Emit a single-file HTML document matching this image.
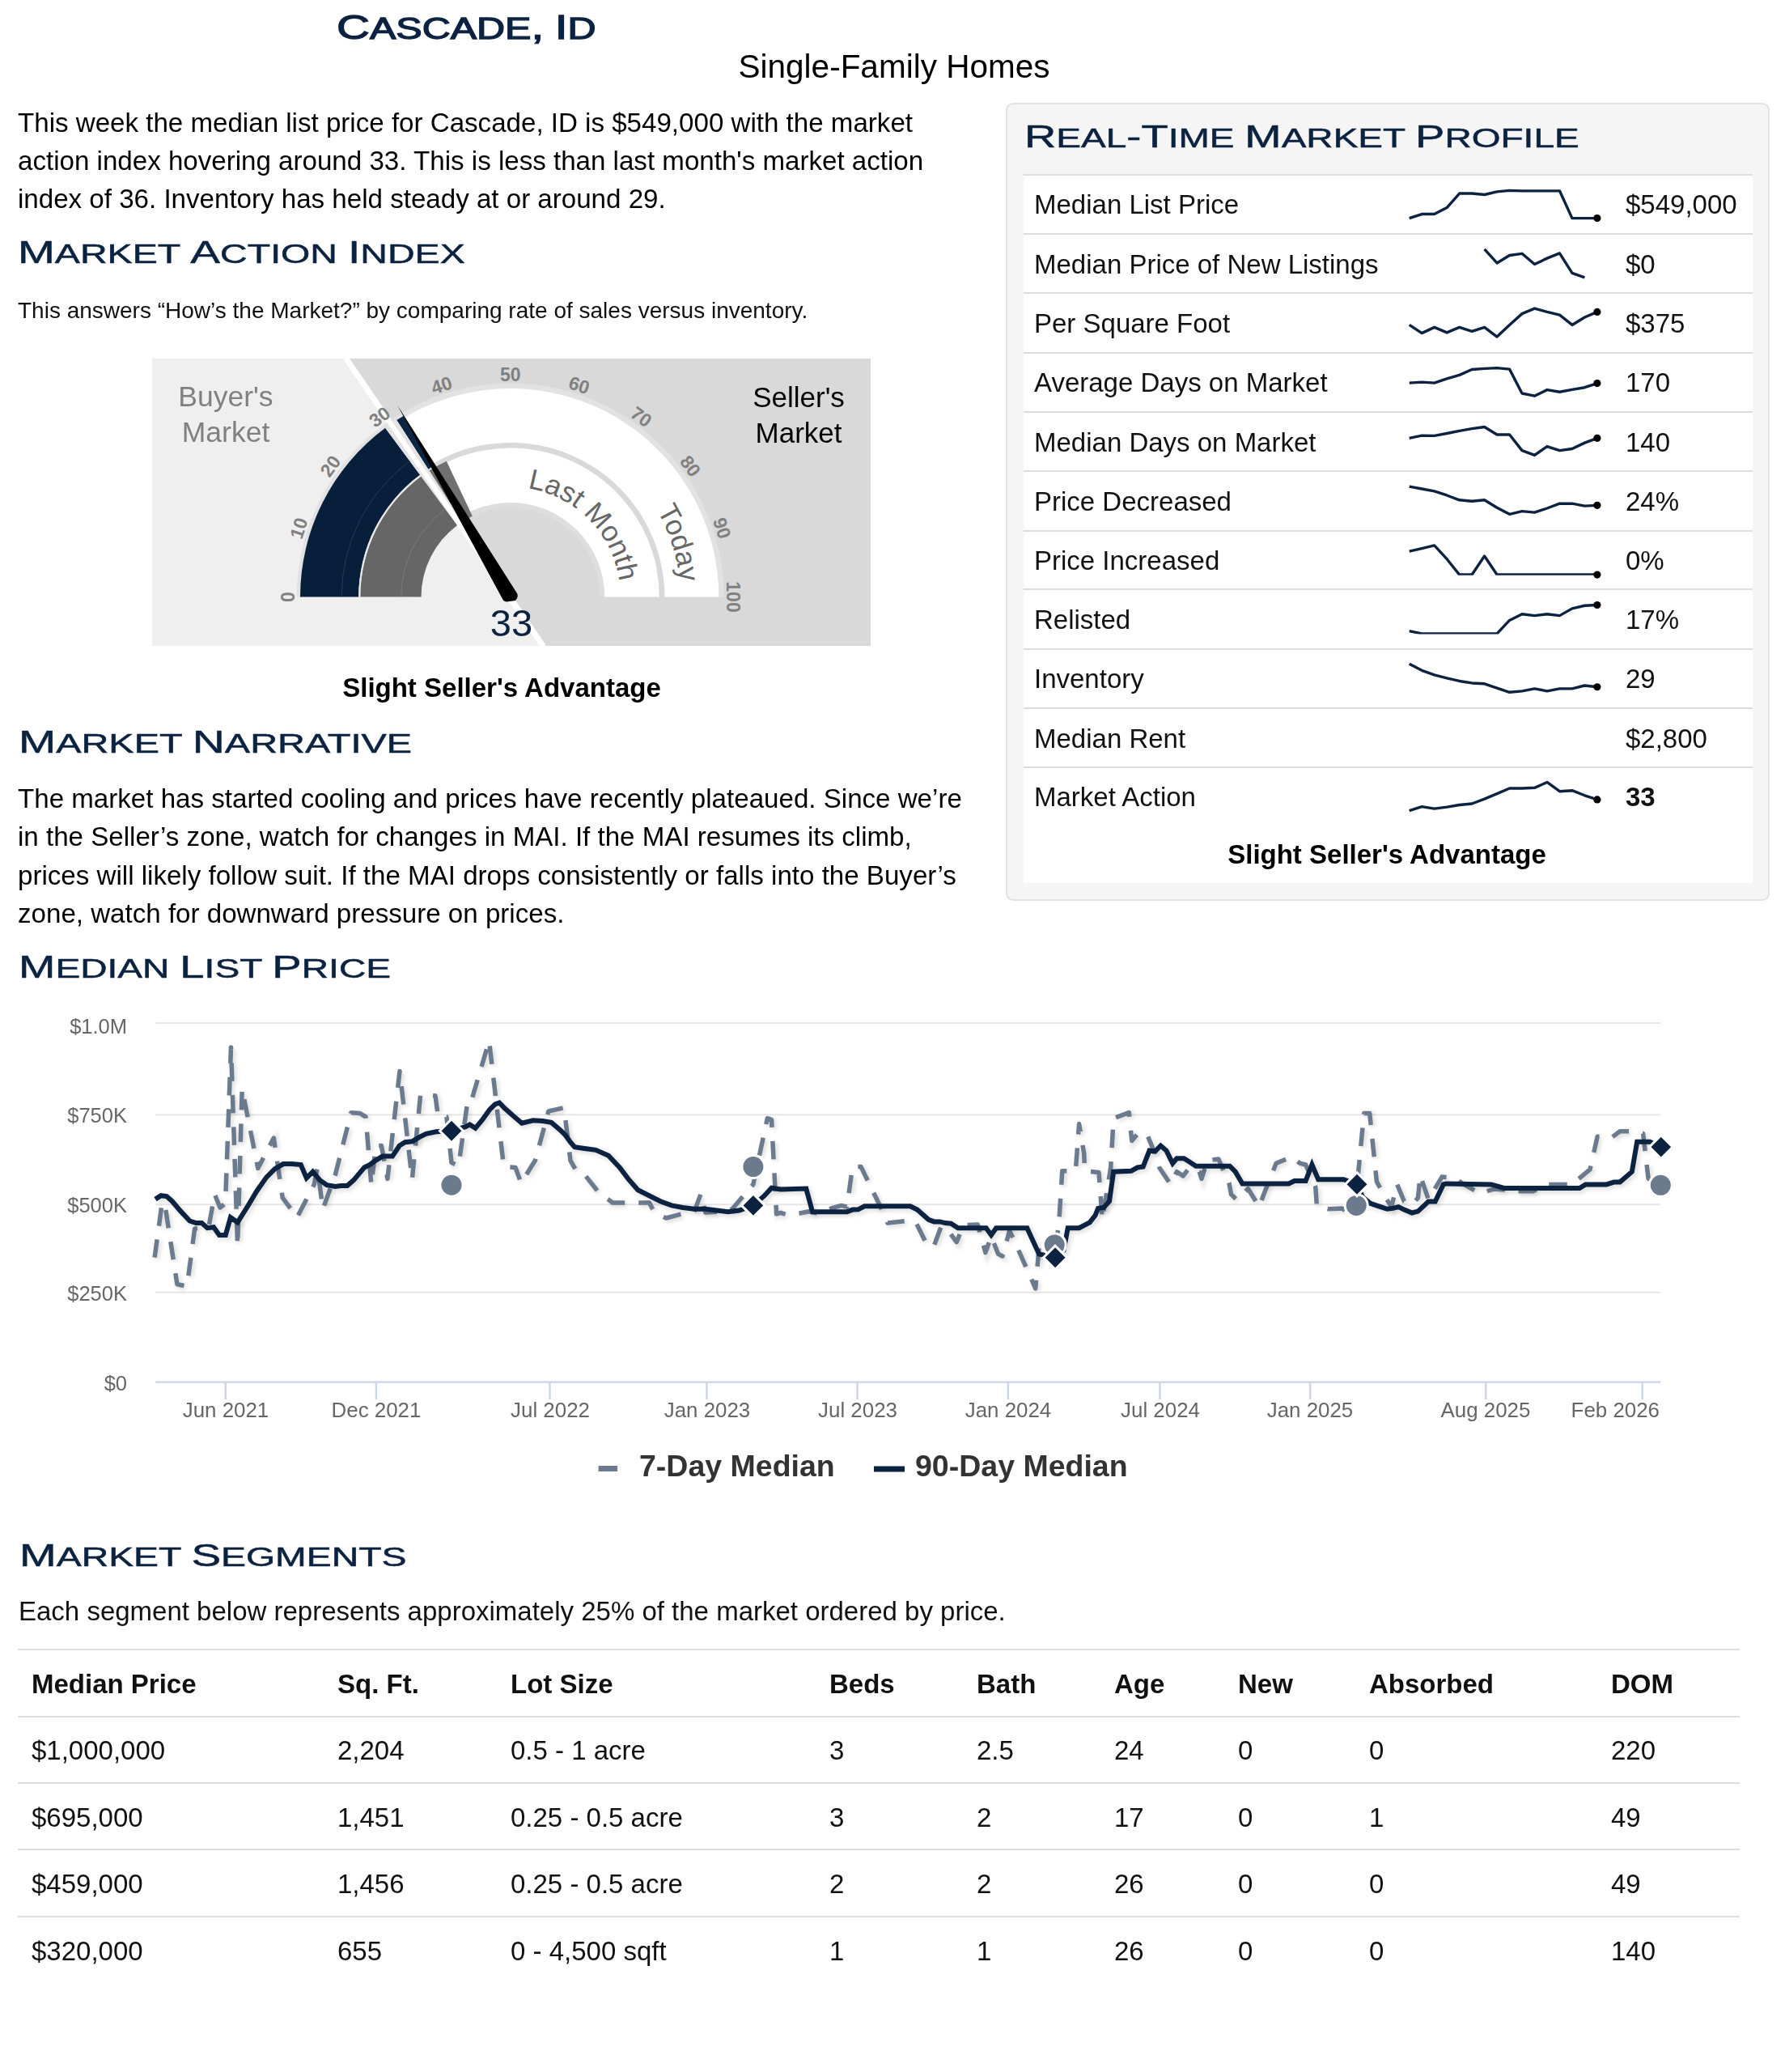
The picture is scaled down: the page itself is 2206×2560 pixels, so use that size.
<!DOCTYPE html>
<html><head><meta charset="utf-8"><title>Cascade, ID</title>
<style>
html,body{margin:0;padding:0;background:#fff;}
body{width:2206px;height:2560px;position:relative;overflow:hidden;font-family:"Liberation Sans",sans-serif;}
body>div{will-change:transform;}
</style></head><body>
<div style="position:absolute;left:1243px;top:127px;width:940px;height:982px;border:2.5px solid #e3e3e3;border-radius:9px;background:#f5f5f5;box-sizing:content-box"></div>
<div style="position:absolute;left:1264.5px;top:214.7px;width:901px;height:876.3px;background:#fff"></div>
<div style="position:absolute;left:1264.5px;top:214.7px;width:901px;height:2px;background:#dddddd"></div>
<div style="position:absolute;left:1264.5px;top:288.3px;width:901px;height:2px;background:#dddddd"></div>
<div style="position:absolute;left:1264.5px;top:361.4px;width:901px;height:2px;background:#dddddd"></div>
<div style="position:absolute;left:1264.5px;top:434.7px;width:901px;height:2px;background:#dddddd"></div>
<div style="position:absolute;left:1264.5px;top:508.0px;width:901px;height:2px;background:#dddddd"></div>
<div style="position:absolute;left:1264.5px;top:581.1px;width:901px;height:2px;background:#dddddd"></div>
<div style="position:absolute;left:1264.5px;top:654.7px;width:901px;height:2px;background:#dddddd"></div>
<div style="position:absolute;left:1264.5px;top:727.3px;width:901px;height:2px;background:#dddddd"></div>
<div style="position:absolute;left:1264.5px;top:800.7px;width:901px;height:2px;background:#dddddd"></div>
<div style="position:absolute;left:1264.5px;top:874.4px;width:901px;height:2px;background:#dddddd"></div>
<div style="position:absolute;left:1264.5px;top:946.8px;width:901px;height:2px;background:#dddddd"></div>
<div style="position:absolute;left:1277.80px;top:236.37px;font-size:33px;line-height:33px;color:#111;font-weight:normal;white-space:nowrap;">Median List Price</div>
<div style="position:absolute;left:2008.50px;top:236.37px;font-size:33px;line-height:33px;color:#111;font-weight:normal;white-space:nowrap;">$549,000</div>
<div style="position:absolute;left:1277.80px;top:309.97px;font-size:33px;line-height:33px;color:#111;font-weight:normal;white-space:nowrap;">Median Price of New Listings</div>
<div style="position:absolute;left:2008.50px;top:309.97px;font-size:33px;line-height:33px;color:#111;font-weight:normal;white-space:nowrap;">$0</div>
<div style="position:absolute;left:1277.80px;top:383.07px;font-size:33px;line-height:33px;color:#111;font-weight:normal;white-space:nowrap;">Per Square Foot</div>
<div style="position:absolute;left:2008.50px;top:383.07px;font-size:33px;line-height:33px;color:#111;font-weight:normal;white-space:nowrap;">$375</div>
<div style="position:absolute;left:1277.80px;top:456.37px;font-size:33px;line-height:33px;color:#111;font-weight:normal;white-space:nowrap;">Average Days on Market</div>
<div style="position:absolute;left:2008.50px;top:456.37px;font-size:33px;line-height:33px;color:#111;font-weight:normal;white-space:nowrap;">170</div>
<div style="position:absolute;left:1277.80px;top:529.67px;font-size:33px;line-height:33px;color:#111;font-weight:normal;white-space:nowrap;">Median Days on Market</div>
<div style="position:absolute;left:2008.50px;top:529.67px;font-size:33px;line-height:33px;color:#111;font-weight:normal;white-space:nowrap;">140</div>
<div style="position:absolute;left:1277.80px;top:602.77px;font-size:33px;line-height:33px;color:#111;font-weight:normal;white-space:nowrap;">Price Decreased</div>
<div style="position:absolute;left:2008.50px;top:602.77px;font-size:33px;line-height:33px;color:#111;font-weight:normal;white-space:nowrap;">24%</div>
<div style="position:absolute;left:1277.80px;top:676.37px;font-size:33px;line-height:33px;color:#111;font-weight:normal;white-space:nowrap;">Price Increased</div>
<div style="position:absolute;left:2008.50px;top:676.37px;font-size:33px;line-height:33px;color:#111;font-weight:normal;white-space:nowrap;">0%</div>
<div style="position:absolute;left:1277.80px;top:748.97px;font-size:33px;line-height:33px;color:#111;font-weight:normal;white-space:nowrap;">Relisted</div>
<div style="position:absolute;left:2008.50px;top:748.97px;font-size:33px;line-height:33px;color:#111;font-weight:normal;white-space:nowrap;">17%</div>
<div style="position:absolute;left:1277.80px;top:822.37px;font-size:33px;line-height:33px;color:#111;font-weight:normal;white-space:nowrap;">Inventory</div>
<div style="position:absolute;left:2008.50px;top:822.37px;font-size:33px;line-height:33px;color:#111;font-weight:normal;white-space:nowrap;">29</div>
<div style="position:absolute;left:1277.80px;top:896.07px;font-size:33px;line-height:33px;color:#111;font-weight:normal;white-space:nowrap;">Median Rent</div>
<div style="position:absolute;left:2008.50px;top:896.07px;font-size:33px;line-height:33px;color:#111;font-weight:normal;white-space:nowrap;">$2,800</div>
<div style="position:absolute;left:1277.80px;top:968.47px;font-size:33px;line-height:33px;color:#111;font-weight:normal;white-space:nowrap;">Market Action</div>
<div style="position:absolute;left:2008.50px;top:968.47px;font-size:33px;line-height:33px;color:#111;font-weight:bold;white-space:nowrap;">33</div>
<div style="position:absolute;left:714.00px;width:2000px;text-align:center;top:1038.57px;font-size:33px;line-height:33px;color:#000;font-weight:bold;white-space:nowrap;">Slight Seller's Advantage</div>
<div style="position:absolute;left:415.50px;top:13.05px;font-size:42px;line-height:42px;color:#0b2240;font-weight:normal;white-space:nowrap;transform-origin:0 0;transform:scaleX(1.3480);-webkit-text-stroke:1.3px #0b2240"><span style="font-size:42px">C</span><span style="font-size:36px">A</span><span style="font-size:36px">S</span><span style="font-size:36px">C</span><span style="font-size:36px">A</span><span style="font-size:36px">D</span><span style="font-size:36px">E</span><span style="font-size:42px">,</span><span style="font-size:36px"> </span><span style="font-size:42px">I</span><span style="font-size:36px">D</span></div>
<div style="position:absolute;left:22.30px;top:292.49px;font-size:39px;line-height:39px;color:#0b2240;font-weight:normal;white-space:nowrap;transform-origin:0 0;transform:scaleX(1.4115);-webkit-text-stroke:0.5px #0b2240"><span style="font-size:39px">M</span><span style="font-size:33px">A</span><span style="font-size:33px">R</span><span style="font-size:33px">K</span><span style="font-size:33px">E</span><span style="font-size:33px">T</span><span style="font-size:33px"> </span><span style="font-size:39px">A</span><span style="font-size:33px">C</span><span style="font-size:33px">T</span><span style="font-size:33px">I</span><span style="font-size:33px">O</span><span style="font-size:33px">N</span><span style="font-size:33px"> </span><span style="font-size:39px">I</span><span style="font-size:33px">N</span><span style="font-size:33px">D</span><span style="font-size:33px">E</span><span style="font-size:33px">X</span></div>
<div style="position:absolute;left:1266.30px;top:149.29px;font-size:39px;line-height:39px;color:#0b2240;font-weight:normal;white-space:nowrap;transform-origin:0 0;transform:scaleX(1.3948);-webkit-text-stroke:0.5px #0b2240"><span style="font-size:39px">R</span><span style="font-size:33px">E</span><span style="font-size:33px">A</span><span style="font-size:33px">L</span><span style="font-size:39px">-</span><span style="font-size:39px">T</span><span style="font-size:33px">I</span><span style="font-size:33px">M</span><span style="font-size:33px">E</span><span style="font-size:33px"> </span><span style="font-size:39px">M</span><span style="font-size:33px">A</span><span style="font-size:33px">R</span><span style="font-size:33px">K</span><span style="font-size:33px">E</span><span style="font-size:33px">T</span><span style="font-size:33px"> </span><span style="font-size:39px">P</span><span style="font-size:33px">R</span><span style="font-size:33px">O</span><span style="font-size:33px">F</span><span style="font-size:33px">I</span><span style="font-size:33px">L</span><span style="font-size:33px">E</span></div>
<div style="position:absolute;left:23.00px;top:897.39px;font-size:39px;line-height:39px;color:#0b2240;font-weight:normal;white-space:nowrap;transform-origin:0 0;transform:scaleX(1.4213);-webkit-text-stroke:0.5px #0b2240"><span style="font-size:39px">M</span><span style="font-size:33px">A</span><span style="font-size:33px">R</span><span style="font-size:33px">K</span><span style="font-size:33px">E</span><span style="font-size:33px">T</span><span style="font-size:33px"> </span><span style="font-size:39px">N</span><span style="font-size:33px">A</span><span style="font-size:33px">R</span><span style="font-size:33px">R</span><span style="font-size:33px">A</span><span style="font-size:33px">T</span><span style="font-size:33px">I</span><span style="font-size:33px">V</span><span style="font-size:33px">E</span></div>
<div style="position:absolute;left:23.00px;top:1174.99px;font-size:39px;line-height:39px;color:#0b2240;font-weight:normal;white-space:nowrap;transform-origin:0 0;transform:scaleX(1.3978);-webkit-text-stroke:0.5px #0b2240"><span style="font-size:39px">M</span><span style="font-size:33px">E</span><span style="font-size:33px">D</span><span style="font-size:33px">I</span><span style="font-size:33px">A</span><span style="font-size:33px">N</span><span style="font-size:33px"> </span><span style="font-size:39px">L</span><span style="font-size:33px">I</span><span style="font-size:33px">S</span><span style="font-size:33px">T</span><span style="font-size:33px"> </span><span style="font-size:39px">P</span><span style="font-size:33px">R</span><span style="font-size:33px">I</span><span style="font-size:33px">C</span><span style="font-size:33px">E</span></div>
<div style="position:absolute;left:23.50px;top:1902.19px;font-size:39px;line-height:39px;color:#0b2240;font-weight:normal;white-space:nowrap;transform-origin:0 0;transform:scaleX(1.4058);-webkit-text-stroke:0.5px #0b2240"><span style="font-size:39px">M</span><span style="font-size:33px">A</span><span style="font-size:33px">R</span><span style="font-size:33px">K</span><span style="font-size:33px">E</span><span style="font-size:33px">T</span><span style="font-size:33px"> </span><span style="font-size:39px">S</span><span style="font-size:33px">E</span><span style="font-size:33px">G</span><span style="font-size:33px">M</span><span style="font-size:33px">E</span><span style="font-size:33px">N</span><span style="font-size:33px">T</span><span style="font-size:33px">S</span></div>
<div style="position:absolute;left:104.50px;width:2000px;text-align:center;top:62.32px;font-size:40.5px;line-height:40.5px;color:#000;font-weight:normal;white-space:nowrap;">Single-Family Homes</div>
<div style="position:absolute;left:22.00px;top:135.06px;font-size:33.12px;line-height:33.12px;color:#000;font-weight:normal;white-space:nowrap;">This week the median list price for Cascade, ID is $549,000 with the market</div>
<div style="position:absolute;left:22.00px;top:182.21px;font-size:33.12px;line-height:33.12px;color:#000;font-weight:normal;white-space:nowrap;">action index hovering around 33. This is less than last month's market action</div>
<div style="position:absolute;left:22.00px;top:229.36px;font-size:33.12px;line-height:33.12px;color:#000;font-weight:normal;white-space:nowrap;">index of 36. Inventory has held steady at or around 29.</div>
<div style="position:absolute;left:22.00px;top:370.30px;font-size:28px;line-height:28px;color:#111;font-weight:normal;white-space:nowrap;">This answers “How’s the Market?” by comparing rate of sales versus inventory.</div>
<div style="position:absolute;left:22.00px;top:969.56px;font-size:33.12px;line-height:33.12px;color:#000;font-weight:normal;white-space:nowrap;">The market has started cooling and prices have recently plateaued. Since we’re</div>
<div style="position:absolute;left:22.00px;top:1017.06px;font-size:33.12px;line-height:33.12px;color:#000;font-weight:normal;white-space:nowrap;">in the Seller’s zone, watch for changes in MAI. If the MAI resumes its climb,</div>
<div style="position:absolute;left:22.00px;top:1064.56px;font-size:33.12px;line-height:33.12px;color:#000;font-weight:normal;white-space:nowrap;">prices will likely follow suit. If the MAI drops consistently or falls into the Buyer’s</div>
<div style="position:absolute;left:22.00px;top:1112.06px;font-size:33.12px;line-height:33.12px;color:#000;font-weight:normal;white-space:nowrap;">zone, watch for downward pressure on prices.</div>
<div style="position:absolute;left:-380.00px;width:2000px;text-align:center;top:832.77px;font-size:33px;line-height:33px;color:#000;font-weight:bold;white-space:nowrap;">Slight Seller's Advantage</div>
<svg width="2206" height="900" style="position:absolute;left:0;top:0">
<defs><clipPath id="gclip"><rect x="188" y="443" width="888" height="355"/></clipPath></defs>
<g clip-path="url(#gclip)">
<rect x="188" y="443" width="888" height="355" fill="#efefef"/>
<polygon points="431.3,443 1076,443 1076,798 675.3,798" fill="#d9d9d9"/>
<line x1="427.8" y1="443" x2="671" y2="798" stroke="#ffffff" stroke-width="7"/>
</g>
<path d="M366.80,737.50 A264,264 0 0 1 894.80,737.50 L888.40,737.50 A257.6,257.6 0 0 0 373.20,737.50 Z" fill="#e2e2e2" />
<path d="M440.20,737.50 A190.6,190.6 0 0 1 821.40,737.50 L814.80,737.50 A184,184 0 0 0 446.80,737.50 Z" fill="#d9d9d9" />
<path d="M513.80,737.50 A117,117 0 0 1 747.80,737.50 L740.80,737.50 A110,110 0 0 0 520.80,737.50 Z" fill="#dedede" />
<path d="M373.20,737.50 A257.6,257.6 0 0 1 888.40,737.50 L821.40,737.50 A190.6,190.6 0 0 0 440.20,737.50 Z" fill="#ffffff" />
<path d="M446.80,737.50 A184,184 0 0 1 814.80,737.50 L747.30,737.50 A116.5,116.5 0 0 0 514.30,737.50 Z" fill="#ffffff" />
<path d="M371.00,737.50 A259.8,259.8 0 0 1 476.12,528.77 L519.11,586.77 A187.6,187.6 0 0 0 443.20,737.50 Z" fill="#071f3b" />
<path d="M490.22,519.02 A259.8,259.8 0 0 1 498.55,513.88 L535.30,576.02 A187.6,187.6 0 0 0 529.29,579.74 Z" fill="#0b2545" />
<path d="M445.30,737.50 A185.5,185.5 0 0 1 520.36,588.46 L565.13,648.88 A110.3,110.3 0 0 0 520.50,737.50 Z" fill="#666666" />
<path d="M530.42,581.50 A185.5,185.5 0 0 1 551.82,569.65 L583.84,637.70 A110.3,110.3 0 0 0 571.11,644.74 Z" fill="#707070" />
<path d="M443.20,737.50 A187.6,187.6 0 0 1 519.11,586.77 L520.36,588.46 A185.5,185.5 0 0 0 445.30,737.50 Z" fill="#e8e8e8" />
<path d="M476.12,528.77 A259.8,259.8 0 0 1 490.22,519.02 L571.11,644.74 A110.3,110.3 0 0 0 565.13,648.88 Z" fill="#e3e3e3" />
<path d="M422.10,737.50 A208.7,208.7 0 0 1 506.54,569.82" fill="none" stroke="#2a3a50" stroke-width="1"/>
<path d="M495.80,737.50 A135,135 0 0 1 550.42,629.04" fill="none" stroke="#7a7a7a" stroke-width="1"/>
<line x1="427.8" y1="443" x2="671" y2="798" stroke="#ffffff" stroke-width="6"/>
<text x="355.80" y="737.50" transform="rotate(-90.0 355.80 737.50)" text-anchor="middle" dominant-baseline="central" font-family="Liberation Sans" font-weight="bold" font-size="23" fill="#808080">0</text>
<text x="369.26" y="652.52" transform="rotate(-72.0 369.26 652.52)" text-anchor="middle" dominant-baseline="central" font-family="Liberation Sans" font-weight="bold" font-size="23" fill="#808080">10</text>
<text x="408.32" y="575.86" transform="rotate(-54.0 408.32 575.86)" text-anchor="middle" dominant-baseline="central" font-family="Liberation Sans" font-weight="bold" font-size="23" fill="#808080">20</text>
<text x="469.16" y="515.02" transform="rotate(-36.0 469.16 515.02)" text-anchor="middle" dominant-baseline="central" font-family="Liberation Sans" font-weight="bold" font-size="23" fill="#808080">30</text>
<text x="545.82" y="475.96" transform="rotate(-18.0 545.82 475.96)" text-anchor="middle" dominant-baseline="central" font-family="Liberation Sans" font-weight="bold" font-size="23" fill="#808080">40</text>
<text x="630.80" y="462.50" transform="rotate(0.0 630.80 462.50)" text-anchor="middle" dominant-baseline="central" font-family="Liberation Sans" font-weight="bold" font-size="23" fill="#808080">50</text>
<text x="715.78" y="475.96" transform="rotate(18.0 715.78 475.96)" text-anchor="middle" dominant-baseline="central" font-family="Liberation Sans" font-weight="bold" font-size="23" fill="#808080">60</text>
<text x="792.44" y="515.02" transform="rotate(36.0 792.44 515.02)" text-anchor="middle" dominant-baseline="central" font-family="Liberation Sans" font-weight="bold" font-size="23" fill="#808080">70</text>
<text x="853.28" y="575.86" transform="rotate(54.0 853.28 575.86)" text-anchor="middle" dominant-baseline="central" font-family="Liberation Sans" font-weight="bold" font-size="23" fill="#808080">80</text>
<text x="892.34" y="652.52" transform="rotate(72.0 892.34 652.52)" text-anchor="middle" dominant-baseline="central" font-family="Liberation Sans" font-weight="bold" font-size="23" fill="#808080">90</text>
<text x="905.80" y="737.50" transform="rotate(90.0 905.80 737.50)" text-anchor="middle" dominant-baseline="central" font-family="Liberation Sans" font-weight="bold" font-size="23" fill="#808080">100</text>
<defs><path id="lm" d="M652.08,603.17 A136,136 0 0 1 766.28,749.35" fill="none"/><path id="td" d="M811.74,630.92 A210,210 0 0 1 840.00,755.80" fill="none"/></defs>
<text font-family="Liberation Sans" font-size="35" fill="#666"><textPath href="#lm">Last Month</textPath></text>
<text font-family="Liberation Sans" font-size="35" fill="#666"><textPath href="#td">Today</textPath></text>
<path d="M491.3,500.9 L639.2,733.4 Q641,738 637,742 L626,743.5 Q622,743 620.5,739 Z" fill="#000"/>
</svg>
<div style="position:absolute;left:-721.40px;width:2000px;text-align:center;top:472.95px;font-size:35.5px;line-height:35.5px;color:#808080;font-weight:normal;white-space:nowrap;">Buyer's</div>
<div style="position:absolute;left:-721.40px;width:2000px;text-align:center;top:517.25px;font-size:35.5px;line-height:35.5px;color:#808080;font-weight:normal;white-space:nowrap;">Market</div>
<div style="position:absolute;left:-13.00px;width:2000px;text-align:center;top:473.07px;font-size:35px;line-height:35px;color:#000;font-weight:normal;white-space:nowrap;">Seller's</div>
<div style="position:absolute;left:-13.00px;width:2000px;text-align:center;top:517.07px;font-size:35px;line-height:35px;color:#000;font-weight:normal;white-space:nowrap;">Market</div>
<div style="position:absolute;left:-368.30px;width:2000px;text-align:center;top:745.71px;font-size:47px;line-height:47px;color:#0b2240;font-weight:normal;white-space:nowrap;">33</div>
<svg width="2206" height="1100" style="position:absolute;left:0;top:0">
<path d="M1741.70,269.62 L1757.18,264.53 L1772.66,264.53 L1788.14,256.51 L1803.62,239.03 L1819.10,239.03 L1834.58,240.49 L1850.06,236.85 L1865.54,235.39 L1881.02,235.83 L1896.50,235.83 L1911.98,235.83 L1927.46,235.83 L1942.94,269.62 L1958.42,269.62 L1973.90,269.62" fill="none" stroke="#0b2240" stroke-width="3.4" stroke-linejoin="round"/><circle cx="1973.90" cy="269.62" r="4.6" fill="#000"/>
<path d="M1834.58,307.94 L1850.06,324.98 L1865.54,315.51 L1881.02,313.32 L1896.50,326.43 L1911.98,319.15 L1927.46,312.89 L1942.94,337.36 L1958.42,342.90" fill="none" stroke="#0b2240" stroke-width="3.4" stroke-linejoin="round"/>
<path d="M1741.70,401.45 L1757.18,411.65 L1772.66,404.37 L1788.14,410.92 L1803.62,404.37 L1819.10,409.46 L1834.58,404.37 L1850.06,416.02 L1865.54,401.45 L1881.02,387.61 L1896.50,381.06 L1911.98,385.43 L1927.46,389.07 L1942.94,401.45 L1958.42,391.98 L1973.90,385.43" fill="none" stroke="#0b2240" stroke-width="3.4" stroke-linejoin="round"/><circle cx="1973.90" cy="385.43" r="4.6" fill="#000"/>
<path d="M1741.70,473.16 L1757.18,472.14 L1772.66,473.16 L1788.14,467.77 L1803.62,463.40 L1819.10,456.56 L1834.58,455.39 L1850.06,454.66 L1865.54,456.12 L1881.02,485.98 L1896.50,489.19 L1911.98,481.61 L1927.46,484.24 L1942.94,481.32 L1958.42,478.70 L1973.90,473.60" fill="none" stroke="#0b2240" stroke-width="3.4" stroke-linejoin="round"/><circle cx="1973.90" cy="473.60" r="4.6" fill="#000"/>
<path d="M1741.70,541.34 L1757.18,538.13 L1772.66,538.42 L1788.14,535.51 L1803.62,532.31 L1819.10,529.68 L1834.58,527.50 L1850.06,536.97 L1865.54,536.97 L1881.02,556.63 L1896.50,562.46 L1911.98,551.53 L1927.46,556.63 L1942.94,554.45 L1958.42,547.16 L1973.90,541.34" fill="none" stroke="#0b2240" stroke-width="3.4" stroke-linejoin="round"/><circle cx="1973.90" cy="541.34" r="4.6" fill="#000"/>
<path d="M1741.70,601.06 L1757.18,603.97 L1772.66,606.89 L1788.14,611.98 L1803.62,617.81 L1819.10,619.27 L1834.58,617.81 L1850.06,627.28 L1865.54,635.29 L1881.02,631.65 L1896.50,633.11 L1911.98,628.01 L1927.46,622.18 L1942.94,622.18 L1958.42,625.09 L1973.90,624.37" fill="none" stroke="#0b2240" stroke-width="3.4" stroke-linejoin="round"/><circle cx="1973.90" cy="624.37" r="4.6" fill="#000"/>
<clipPath id="sc655_180"><rect x="1700" y="630.1" width="300" height="80.6"/></clipPath><path d="M1741.70,681.22 L1757.18,677.58 L1772.66,673.94 L1788.14,690.69 L1803.62,710.06 L1819.10,710.06 L1834.58,687.05 L1850.06,710.06 L1865.54,710.06 L1881.02,710.06 L1896.50,710.06 L1911.98,710.06 L1927.46,710.06 L1942.94,710.06 L1958.42,710.06 L1973.90,710.06" fill="none" stroke="#0b2240" stroke-width="3.4" stroke-linejoin="round" clip-path="url(#sc655_180)"/><circle cx="1973.90" cy="710.06" r="4.6" fill="#000"/>
<clipPath id="sc655_855"><rect x="1700" y="702.9" width="300" height="80.6"/></clipPath><path d="M1741.70,779.54 L1757.18,782.90 L1772.66,782.90 L1788.14,782.90 L1803.62,782.90 L1819.10,782.90 L1834.58,782.90 L1850.06,782.90 L1865.54,766.43 L1881.02,758.71 L1896.50,760.61 L1911.98,758.71 L1927.46,760.61 L1942.94,751.87 L1958.42,748.23 L1973.90,747.50" fill="none" stroke="#0b2240" stroke-width="3.4" stroke-linejoin="round" clip-path="url(#sc655_855)"/><circle cx="1973.90" cy="747.50" r="4.6" fill="#000"/>
<path d="M1741.70,820.33 L1757.18,828.34 L1772.66,833.88 L1788.14,837.81 L1803.62,841.45 L1819.10,843.93 L1834.58,844.80 L1850.06,850.19 L1865.54,855.29 L1881.02,853.83 L1896.50,850.92 L1911.98,853.83 L1927.46,850.92 L1942.94,850.92 L1958.42,846.99 L1973.90,848.74" fill="none" stroke="#0b2240" stroke-width="3.4" stroke-linejoin="round"/><circle cx="1973.90" cy="848.74" r="4.6" fill="#000"/>
<path d="M1741.70,1001.73 L1757.18,996.63 L1772.66,999.11 L1788.14,997.07 L1803.62,994.45 L1819.10,992.99 L1834.58,987.16 L1850.06,980.61 L1865.54,974.05 L1881.02,974.05 L1896.50,973.32 L1911.98,966.48 L1927.46,977.69 L1942.94,976.68 L1958.42,982.79 L1973.90,987.89" fill="none" stroke="#0b2240" stroke-width="3.4" stroke-linejoin="round"/><circle cx="1973.90" cy="987.89" r="4.6" fill="#000"/>
</svg>
<svg width="2206" height="1900" style="position:absolute;left:0;top:0">
<defs><filter id="shd" x="-5%" y="-5%" width="110%" height="110%"><feGaussianBlur stdDeviation="2"/></filter></defs>
<rect x="192.3" y="1263.0" width="1860.0" height="2" fill="#e6e6e6"/>
<rect x="192.3" y="1376.3" width="1860.0" height="2" fill="#e6e6e6"/>
<rect x="192.3" y="1487.2" width="1860.0" height="2" fill="#e6e6e6"/>
<rect x="192.3" y="1595.8" width="1860.0" height="2" fill="#e6e6e6"/>
<rect x="192.3" y="1706.4" width="1860.0" height="2.4" fill="#ccd6eb"/>
<rect x="277.6" y="1707.6" width="2.4" height="21.5" fill="#ccd6eb"/>
<rect x="463.7" y="1707.6" width="2.4" height="21.5" fill="#ccd6eb"/>
<rect x="678.3" y="1707.6" width="2.4" height="21.5" fill="#ccd6eb"/>
<rect x="872.3" y="1707.6" width="2.4" height="21.5" fill="#ccd6eb"/>
<rect x="1058.3" y="1707.6" width="2.4" height="21.5" fill="#ccd6eb"/>
<rect x="1244.6" y="1707.6" width="2.4" height="21.5" fill="#ccd6eb"/>
<rect x="1432.3" y="1707.6" width="2.4" height="21.5" fill="#ccd6eb"/>
<rect x="1618.0" y="1707.6" width="2.4" height="21.5" fill="#ccd6eb"/>
<rect x="1835.1" y="1707.6" width="2.4" height="21.5" fill="#ccd6eb"/>
<rect x="2028.5" y="1707.6" width="2.4" height="21.5" fill="#ccd6eb"/>
<path d="M191.1,1553.7 L200.3,1485.9 L204.1,1490.3 L218.9,1586.7 L231.1,1589.3 L240.6,1518.1 L258.0,1515.5 L265.3,1475.5 L271.9,1492.0 L278.5,1486.8 L285.5,1293.9 L293.6,1539.8 L299.2,1345.2 L318.8,1443.4 L338.3,1406.0 L349.2,1479.8 L367.1,1504.2 L388.3,1463.3 L392.2,1443.4 L399.1,1493.8 L414.4,1451.2 L433.9,1374.7 L445.0,1375.6 L452.0,1379.9 L458.9,1464.2 L464.5,1415.5 L471.4,1415.5 L478.9,1456.4 L494.0,1323.4 L509.3,1457.3 L519.7,1352.1 L538.0,1353.8 L541.5,1379.9 L551.9,1379.9 L558.0,1436.4 L566.7,1440.7 L578.0,1359.9 L582.3,1360.8 L604.5,1286.1 L622.6,1441.6 L637.0,1442.5 L644.0,1461.6 L661.4,1433.8 L677.9,1373.0 L697.0,1368.6 L705.0,1433.8 L712.8,1447.7 L722.4,1451.2 L742.4,1476.4 L751.1,1481.6 L757.1,1485.9 L771.0,1485.9 L802.3,1485.9 L809.3,1499.0 L823.2,1505.0 L842.3,1499.8 L857.9,1497.2 L866.3,1474.6 L871.8,1498.1 L889.2,1497.2 L904.9,1493.8 L930.9,1463.3 L948.3,1381.7 L953.5,1383.4 L959.6,1499.8 L965.0,1498.4 L972.0,1500.7 L988.5,1499.0 L999.8,1496.7 L1011.9,1499.5 L1026.7,1493.2 L1039.7,1489.4 L1046.7,1491.1 L1053.6,1441.6 L1064.1,1441.6 L1093.6,1502.4 L1097.1,1511.1 L1126.6,1507.7 L1132.7,1512.0 L1146.6,1539.8 L1154.4,1538.9 L1163.1,1515.5 L1170.9,1519.0 L1182.2,1534.6 L1190.9,1513.7 L1208.3,1512.9 L1217.9,1547.6 L1225.0,1527.6 L1233.7,1549.4 L1238.9,1552.0 L1247.6,1520.7 L1252.8,1531.1 L1279.7,1591.9 L1284.1,1541.5 L1304.1,1538.1 L1308.4,1515.5 L1312.8,1446.8 L1329.3,1446.8 L1333.6,1388.6 L1339.7,1425.1 L1340.6,1446.8 L1358.0,1448.6 L1362.3,1506.8 L1372.7,1442.5 L1376.2,1381.7 L1395.3,1374.7 L1398.8,1409.5 L1407.5,1399.0 L1417.9,1402.5 L1426.6,1423.4 L1432.7,1442.5 L1446.6,1463.3 L1454.4,1447.7 L1462.2,1452.9 L1470.0,1442.5 L1482.2,1447.7 L1485.0,1456.4 L1492.0,1433.8 L1505.9,1432.1 L1518.9,1461.6 L1521.5,1475.5 L1528.4,1482.5 L1542.4,1468.6 L1556.3,1491.1 L1561.5,1476.4 L1577.1,1437.3 L1596.2,1429.4 L1606.7,1437.3 L1613.6,1439.0 L1625.8,1466.8 L1627.5,1491.1 L1641.4,1493.8 L1658.8,1492.9 L1669.2,1501.6 L1677.9,1456.4 L1685.7,1375.6 L1692.7,1375.6 L1701.4,1459.9 L1710.9,1477.2 L1719.6,1491.1 L1726.6,1463.3 L1735.3,1484.2 L1745.0,1488.3 L1752.4,1480.0 L1755.2,1452.3 L1765.3,1481.9 L1782.0,1454.1 L1798.6,1455.0 L1806.0,1461.5 L1829.1,1474.5 L1846.7,1468.9 L1878.1,1471.7 L1894.8,1471.7 L1911.4,1463.4 L1942.8,1463.4 L1965.0,1444.9 L1974.2,1404.2 L1990.9,1406.1 L2002.0,1397.7 L2013.1,1397.7 L2030.6,1400.5 L2037.1,1456.0 L2052.3,1464.3" fill="none" stroke="#000" stroke-opacity="0.10" stroke-width="8" stroke-dasharray="22.5 17" transform="translate(2.4,2.4)" filter="url(#shd)"/>
<path d="M191.1,1553.7 L200.3,1485.9 L204.1,1490.3 L218.9,1586.7 L231.1,1589.3 L240.6,1518.1 L258.0,1515.5 L265.3,1475.5 L271.9,1492.0 L278.5,1486.8 L285.5,1293.9 L293.6,1539.8 L299.2,1345.2 L318.8,1443.4 L338.3,1406.0 L349.2,1479.8 L367.1,1504.2 L388.3,1463.3 L392.2,1443.4 L399.1,1493.8 L414.4,1451.2 L433.9,1374.7 L445.0,1375.6 L452.0,1379.9 L458.9,1464.2 L464.5,1415.5 L471.4,1415.5 L478.9,1456.4 L494.0,1323.4 L509.3,1457.3 L519.7,1352.1 L538.0,1353.8 L541.5,1379.9 L551.9,1379.9 L558.0,1436.4 L566.7,1440.7 L578.0,1359.9 L582.3,1360.8 L604.5,1286.1 L622.6,1441.6 L637.0,1442.5 L644.0,1461.6 L661.4,1433.8 L677.9,1373.0 L697.0,1368.6 L705.0,1433.8 L712.8,1447.7 L722.4,1451.2 L742.4,1476.4 L751.1,1481.6 L757.1,1485.9 L771.0,1485.9 L802.3,1485.9 L809.3,1499.0 L823.2,1505.0 L842.3,1499.8 L857.9,1497.2 L866.3,1474.6 L871.8,1498.1 L889.2,1497.2 L904.9,1493.8 L930.9,1463.3 L948.3,1381.7 L953.5,1383.4 L959.6,1499.8 L965.0,1498.4 L972.0,1500.7 L988.5,1499.0 L999.8,1496.7 L1011.9,1499.5 L1026.7,1493.2 L1039.7,1489.4 L1046.7,1491.1 L1053.6,1441.6 L1064.1,1441.6 L1093.6,1502.4 L1097.1,1511.1 L1126.6,1507.7 L1132.7,1512.0 L1146.6,1539.8 L1154.4,1538.9 L1163.1,1515.5 L1170.9,1519.0 L1182.2,1534.6 L1190.9,1513.7 L1208.3,1512.9 L1217.9,1547.6 L1225.0,1527.6 L1233.7,1549.4 L1238.9,1552.0 L1247.6,1520.7 L1252.8,1531.1 L1279.7,1591.9 L1284.1,1541.5 L1304.1,1538.1 L1308.4,1515.5 L1312.8,1446.8 L1329.3,1446.8 L1333.6,1388.6 L1339.7,1425.1 L1340.6,1446.8 L1358.0,1448.6 L1362.3,1506.8 L1372.7,1442.5 L1376.2,1381.7 L1395.3,1374.7 L1398.8,1409.5 L1407.5,1399.0 L1417.9,1402.5 L1426.6,1423.4 L1432.7,1442.5 L1446.6,1463.3 L1454.4,1447.7 L1462.2,1452.9 L1470.0,1442.5 L1482.2,1447.7 L1485.0,1456.4 L1492.0,1433.8 L1505.9,1432.1 L1518.9,1461.6 L1521.5,1475.5 L1528.4,1482.5 L1542.4,1468.6 L1556.3,1491.1 L1561.5,1476.4 L1577.1,1437.3 L1596.2,1429.4 L1606.7,1437.3 L1613.6,1439.0 L1625.8,1466.8 L1627.5,1491.1 L1641.4,1493.8 L1658.8,1492.9 L1669.2,1501.6 L1677.9,1456.4 L1685.7,1375.6 L1692.7,1375.6 L1701.4,1459.9 L1710.9,1477.2 L1719.6,1491.1 L1726.6,1463.3 L1735.3,1484.2 L1745.0,1488.3 L1752.4,1480.0 L1755.2,1452.3 L1765.3,1481.9 L1782.0,1454.1 L1798.6,1455.0 L1806.0,1461.5 L1829.1,1474.5 L1846.7,1468.9 L1878.1,1471.7 L1894.8,1471.7 L1911.4,1463.4 L1942.8,1463.4 L1965.0,1444.9 L1974.2,1404.2 L1990.9,1406.1 L2002.0,1397.7 L2013.1,1397.7 L2030.6,1400.5 L2037.1,1456.0 L2052.3,1464.3" fill="none" stroke="#6b7a8d" stroke-width="5.5" stroke-dasharray="22.5 17" stroke-linejoin="round"/>
<path d="M192.0,1481.6 L198.9,1477.2 L205.9,1478.1 L212.8,1484.2 L223.2,1496.4 L234.5,1508.5 L242.4,1511.1 L249.3,1511.1 L256.3,1517.2 L264.1,1516.3 L271.0,1525.9 L278.8,1525.9 L284.9,1504.2 L293.6,1510.3 L306.7,1489.4 L317.1,1472.0 L329.2,1454.6 L339.7,1444.2 L350.1,1438.1 L360.5,1438.1 L371.8,1439.0 L378.8,1455.5 L386.6,1447.7 L395.3,1458.1 L404.0,1464.2 L414.4,1465.9 L421.4,1465.1 L429.2,1465.1 L437.0,1458.1 L445.0,1448.6 L450.2,1442.5 L457.2,1439.0 L464.1,1433.8 L472.8,1428.6 L485.0,1428.6 L493.7,1415.5 L500.6,1411.2 L509.3,1410.3 L518.0,1405.1 L526.7,1400.8 L538.8,1398.2 L558.0,1397.3 L575.3,1392.1 L580.6,1389.5 L587.5,1393.8 L596.2,1383.4 L604.9,1371.2 L611.8,1364.3 L617.1,1362.5 L624.0,1369.5 L632.7,1377.3 L644.9,1387.7 L658.8,1384.3 L670.9,1385.1 L681.4,1386.9 L691.8,1395.6 L698.7,1402.5 L705.0,1411.2 L710.2,1417.3 L722.4,1419.0 L736.3,1420.8 L751.9,1427.7 L765.8,1442.5 L776.3,1456.4 L788.4,1470.3 L802.3,1477.2 L816.2,1484.2 L830.1,1489.4 L844.0,1492.0 L857.9,1493.8 L871.8,1493.8 L885.7,1495.5 L899.6,1497.2 L913.6,1495.5 L930.9,1489.4 L944.8,1477.2 L953.5,1467.7 L965.0,1469.4 L996.3,1468.6 L1004.1,1497.2 L1046.7,1497.2 L1053.6,1494.6 L1060.6,1494.3 L1068.4,1490.3 L1124.9,1490.3 L1133.6,1494.6 L1147.5,1506.8 L1154.4,1509.4 L1161.4,1509.4 L1168.3,1511.1 L1175.3,1511.7 L1184.0,1517.2 L1218.7,1517.2 L1225.0,1525.9 L1231.1,1517.2 L1269.3,1517.2 L1284.1,1549.4 L1304.1,1553.7 L1314.5,1545.0 L1319.7,1517.2 L1333.6,1517.2 L1346.7,1510.3 L1353.6,1501.6 L1357.1,1492.9 L1364.0,1492.0 L1371.0,1484.2 L1376.2,1447.7 L1397.9,1446.8 L1405.7,1442.5 L1412.7,1441.6 L1420.5,1421.6 L1427.5,1422.5 L1434.4,1415.5 L1441.4,1421.6 L1449.2,1437.3 L1454.4,1431.2 L1463.1,1431.2 L1470.0,1435.5 L1477.9,1440.7 L1485.0,1440.7 L1519.8,1440.7 L1526.7,1447.7 L1535.4,1462.5 L1592.8,1462.5 L1599.7,1459.0 L1613.6,1459.0 L1621.4,1439.0 L1629.2,1457.3 L1660.5,1457.3 L1677.0,1463.3 L1684.0,1479.0 L1693.6,1486.8 L1704.0,1490.3 L1714.4,1493.8 L1721.4,1492.9 L1728.3,1491.1 L1735.3,1494.6 L1745.0,1498.5 L1752.4,1496.6 L1765.3,1484.6 L1773.7,1484.6 L1783.8,1463.4 L1787.5,1462.4 L1843.0,1463.4 L1858.7,1468.0 L1952.1,1468.0 L1959.5,1463.4 L1985.3,1463.4 L1994.6,1460.6 L2002.0,1460.6 L2016.8,1447.7 L2023.2,1410.7 L2039.0,1410.7 L2052.8,1417.1" fill="none" stroke="#000" stroke-opacity="0.10" stroke-width="9" transform="translate(2.4,2.4)" filter="url(#shd)"/>
<path d="M192.0,1481.6 L198.9,1477.2 L205.9,1478.1 L212.8,1484.2 L223.2,1496.4 L234.5,1508.5 L242.4,1511.1 L249.3,1511.1 L256.3,1517.2 L264.1,1516.3 L271.0,1525.9 L278.8,1525.9 L284.9,1504.2 L293.6,1510.3 L306.7,1489.4 L317.1,1472.0 L329.2,1454.6 L339.7,1444.2 L350.1,1438.1 L360.5,1438.1 L371.8,1439.0 L378.8,1455.5 L386.6,1447.7 L395.3,1458.1 L404.0,1464.2 L414.4,1465.9 L421.4,1465.1 L429.2,1465.1 L437.0,1458.1 L445.0,1448.6 L450.2,1442.5 L457.2,1439.0 L464.1,1433.8 L472.8,1428.6 L485.0,1428.6 L493.7,1415.5 L500.6,1411.2 L509.3,1410.3 L518.0,1405.1 L526.7,1400.8 L538.8,1398.2 L558.0,1397.3 L575.3,1392.1 L580.6,1389.5 L587.5,1393.8 L596.2,1383.4 L604.9,1371.2 L611.8,1364.3 L617.1,1362.5 L624.0,1369.5 L632.7,1377.3 L644.9,1387.7 L658.8,1384.3 L670.9,1385.1 L681.4,1386.9 L691.8,1395.6 L698.7,1402.5 L705.0,1411.2 L710.2,1417.3 L722.4,1419.0 L736.3,1420.8 L751.9,1427.7 L765.8,1442.5 L776.3,1456.4 L788.4,1470.3 L802.3,1477.2 L816.2,1484.2 L830.1,1489.4 L844.0,1492.0 L857.9,1493.8 L871.8,1493.8 L885.7,1495.5 L899.6,1497.2 L913.6,1495.5 L930.9,1489.4 L944.8,1477.2 L953.5,1467.7 L965.0,1469.4 L996.3,1468.6 L1004.1,1497.2 L1046.7,1497.2 L1053.6,1494.6 L1060.6,1494.3 L1068.4,1490.3 L1124.9,1490.3 L1133.6,1494.6 L1147.5,1506.8 L1154.4,1509.4 L1161.4,1509.4 L1168.3,1511.1 L1175.3,1511.7 L1184.0,1517.2 L1218.7,1517.2 L1225.0,1525.9 L1231.1,1517.2 L1269.3,1517.2 L1284.1,1549.4 L1304.1,1553.7 L1314.5,1545.0 L1319.7,1517.2 L1333.6,1517.2 L1346.7,1510.3 L1353.6,1501.6 L1357.1,1492.9 L1364.0,1492.0 L1371.0,1484.2 L1376.2,1447.7 L1397.9,1446.8 L1405.7,1442.5 L1412.7,1441.6 L1420.5,1421.6 L1427.5,1422.5 L1434.4,1415.5 L1441.4,1421.6 L1449.2,1437.3 L1454.4,1431.2 L1463.1,1431.2 L1470.0,1435.5 L1477.9,1440.7 L1485.0,1440.7 L1519.8,1440.7 L1526.7,1447.7 L1535.4,1462.5 L1592.8,1462.5 L1599.7,1459.0 L1613.6,1459.0 L1621.4,1439.0 L1629.2,1457.3 L1660.5,1457.3 L1677.0,1463.3 L1684.0,1479.0 L1693.6,1486.8 L1704.0,1490.3 L1714.4,1493.8 L1721.4,1492.9 L1728.3,1491.1 L1735.3,1494.6 L1745.0,1498.5 L1752.4,1496.6 L1765.3,1484.6 L1773.7,1484.6 L1783.8,1463.4 L1787.5,1462.4 L1843.0,1463.4 L1858.7,1468.0 L1952.1,1468.0 L1959.5,1463.4 L1985.3,1463.4 L1994.6,1460.6 L2002.0,1460.6 L2016.8,1447.7 L2023.2,1410.7 L2039.0,1410.7 L2052.8,1417.1" fill="none" stroke="#0b2240" stroke-width="6" stroke-linejoin="miter" stroke-miterlimit="3"/>
<circle cx="558" cy="1464.2" r="14" fill="#6b7a8d" stroke="#fff" stroke-width="3"/>
<circle cx="930.9" cy="1441.6" r="14" fill="#6b7a8d" stroke="#fff" stroke-width="3"/>
<circle cx="1303.2" cy="1538" r="14" fill="#6b7a8d" stroke="#fff" stroke-width="3"/>
<circle cx="1676.2" cy="1489.4" r="14" fill="#6b7a8d" stroke="#fff" stroke-width="3"/>
<circle cx="2052.3" cy="1464.3" r="14" fill="#6b7a8d" stroke="#fff" stroke-width="3"/>
<polygon points="558,1382.8 572.5,1397.3 558,1411.8 543.5,1397.3" fill="#0b2240" stroke="#fff" stroke-width="3"/>
<polygon points="930.9,1474.9 945.4,1489.4 930.9,1503.9 916.4,1489.4" fill="#0b2240" stroke="#fff" stroke-width="3"/>
<polygon points="1304.1,1539.2 1318.6,1553.7 1304.1,1568.2 1289.6,1553.7" fill="#0b2240" stroke="#fff" stroke-width="3"/>
<polygon points="1677,1448.8 1691.5,1463.3 1677,1477.8 1662.5,1463.3" fill="#0b2240" stroke="#fff" stroke-width="3"/>
<polygon points="2052.8,1402.6 2067.3,1417.1 2052.8,1431.6 2038.3000000000002,1417.1" fill="#0b2240" stroke="#fff" stroke-width="3"/>
<rect x="739.6" y="1811" width="23.5" height="7" fill="#6b7a8d"/>
<rect x="1080" y="1811.5" width="38" height="7" fill="#0b2240"/>
</svg>
<div style="position:absolute;left:0;width:157px;text-align:right;top:1255.6px;font-size:25.5px;line-height:25.5px;color:#666;white-space:nowrap">$1.0M</div>
<div style="position:absolute;left:0;width:157px;text-align:right;top:1366.1px;font-size:25.5px;line-height:25.5px;color:#666;white-space:nowrap">$750K</div>
<div style="position:absolute;left:0;width:157px;text-align:right;top:1477.4px;font-size:25.5px;line-height:25.5px;color:#666;white-space:nowrap">$500K</div>
<div style="position:absolute;left:0;width:157px;text-align:right;top:1585.6px;font-size:25.5px;line-height:25.5px;color:#666;white-space:nowrap">$250K</div>
<div style="position:absolute;left:0;width:157px;text-align:right;top:1697.4px;font-size:25.5px;line-height:25.5px;color:#666;white-space:nowrap">$0</div>
<div style="position:absolute;left:-721.20px;width:2000px;text-align:center;top:1729.58px;font-size:25.9px;line-height:25.9px;color:#666;font-weight:normal;white-space:nowrap;">Jun 2021</div>
<div style="position:absolute;left:-535.10px;width:2000px;text-align:center;top:1729.58px;font-size:25.9px;line-height:25.9px;color:#666;font-weight:normal;white-space:nowrap;">Dec 2021</div>
<div style="position:absolute;left:-320.50px;width:2000px;text-align:center;top:1729.58px;font-size:25.9px;line-height:25.9px;color:#666;font-weight:normal;white-space:nowrap;">Jul 2022</div>
<div style="position:absolute;left:-126.50px;width:2000px;text-align:center;top:1729.58px;font-size:25.9px;line-height:25.9px;color:#666;font-weight:normal;white-space:nowrap;">Jan 2023</div>
<div style="position:absolute;left:59.50px;width:2000px;text-align:center;top:1729.58px;font-size:25.9px;line-height:25.9px;color:#666;font-weight:normal;white-space:nowrap;">Jul 2023</div>
<div style="position:absolute;left:245.80px;width:2000px;text-align:center;top:1729.58px;font-size:25.9px;line-height:25.9px;color:#666;font-weight:normal;white-space:nowrap;">Jan 2024</div>
<div style="position:absolute;left:433.50px;width:2000px;text-align:center;top:1729.58px;font-size:25.9px;line-height:25.9px;color:#666;font-weight:normal;white-space:nowrap;">Jul 2024</div>
<div style="position:absolute;left:619.20px;width:2000px;text-align:center;top:1729.58px;font-size:25.9px;line-height:25.9px;color:#666;font-weight:normal;white-space:nowrap;">Jan 2025</div>
<div style="position:absolute;left:836.30px;width:2000px;text-align:center;top:1729.58px;font-size:25.9px;line-height:25.9px;color:#666;font-weight:normal;white-space:nowrap;">Aug 2025</div>
<div style="position:absolute;left:1850px;width:201px;text-align:right;top:1729.6px;font-size:25.9px;line-height:25.9px;color:#666;white-space:nowrap">Feb 2026</div>
<div style="position:absolute;left:790.00px;top:1793.26px;font-size:37.5px;line-height:37.5px;color:#333;font-weight:bold;white-space:nowrap;">7-Day Median</div>
<div style="position:absolute;left:1130.50px;top:1793.26px;font-size:37.5px;line-height:37.5px;color:#333;font-weight:bold;white-space:nowrap;">90-Day Median</div>
<div style="position:absolute;left:22.50px;top:1974.47px;font-size:33px;line-height:33px;color:#111;font-weight:normal;white-space:nowrap;">Each segment below represents approximately 25% of the market ordered by price.</div>
<div style="position:absolute;left:22.4px;top:2037.1px;width:2128.3px;height:2px;background:#dddddd"></div>
<div style="position:absolute;left:22.4px;top:2119.5px;width:2128.3px;height:2px;background:#dddddd"></div>
<div style="position:absolute;left:22.4px;top:2202.0px;width:2128.3px;height:2px;background:#dddddd"></div>
<div style="position:absolute;left:22.4px;top:2284.4px;width:2128.3px;height:2px;background:#dddddd"></div>
<div style="position:absolute;left:22.4px;top:2366.8px;width:2128.3px;height:2px;background:#dddddd"></div>
<div style="position:absolute;left:38.50px;top:2064.07px;font-size:33px;line-height:33px;color:#111;font-weight:bold;white-space:nowrap;">Median Price</div>
<div style="position:absolute;left:417.00px;top:2064.07px;font-size:33px;line-height:33px;color:#111;font-weight:bold;white-space:nowrap;">Sq. Ft.</div>
<div style="position:absolute;left:631.00px;top:2064.07px;font-size:33px;line-height:33px;color:#111;font-weight:bold;white-space:nowrap;">Lot Size</div>
<div style="position:absolute;left:1024.70px;top:2064.07px;font-size:33px;line-height:33px;color:#111;font-weight:bold;white-space:nowrap;">Beds</div>
<div style="position:absolute;left:1207.00px;top:2064.07px;font-size:33px;line-height:33px;color:#111;font-weight:bold;white-space:nowrap;">Bath</div>
<div style="position:absolute;left:1377.40px;top:2064.07px;font-size:33px;line-height:33px;color:#111;font-weight:bold;white-space:nowrap;">Age</div>
<div style="position:absolute;left:1530.00px;top:2064.07px;font-size:33px;line-height:33px;color:#111;font-weight:bold;white-space:nowrap;">New</div>
<div style="position:absolute;left:1691.60px;top:2064.07px;font-size:33px;line-height:33px;color:#111;font-weight:bold;white-space:nowrap;">Absorbed</div>
<div style="position:absolute;left:1991.00px;top:2064.07px;font-size:33px;line-height:33px;color:#111;font-weight:bold;white-space:nowrap;">DOM</div>
<div style="position:absolute;left:38.50px;top:2146.07px;font-size:33px;line-height:33px;color:#111;font-weight:normal;white-space:nowrap;">$1,000,000</div>
<div style="position:absolute;left:417.00px;top:2146.07px;font-size:33px;line-height:33px;color:#111;font-weight:normal;white-space:nowrap;">2,204</div>
<div style="position:absolute;left:631.00px;top:2146.07px;font-size:33px;line-height:33px;color:#111;font-weight:normal;white-space:nowrap;">0.5 - 1 acre</div>
<div style="position:absolute;left:1024.70px;top:2146.07px;font-size:33px;line-height:33px;color:#111;font-weight:normal;white-space:nowrap;">3</div>
<div style="position:absolute;left:1207.00px;top:2146.07px;font-size:33px;line-height:33px;color:#111;font-weight:normal;white-space:nowrap;">2.5</div>
<div style="position:absolute;left:1377.40px;top:2146.07px;font-size:33px;line-height:33px;color:#111;font-weight:normal;white-space:nowrap;">24</div>
<div style="position:absolute;left:1530.00px;top:2146.07px;font-size:33px;line-height:33px;color:#111;font-weight:normal;white-space:nowrap;">0</div>
<div style="position:absolute;left:1691.60px;top:2146.07px;font-size:33px;line-height:33px;color:#111;font-weight:normal;white-space:nowrap;">0</div>
<div style="position:absolute;left:1991.00px;top:2146.07px;font-size:33px;line-height:33px;color:#111;font-weight:normal;white-space:nowrap;">220</div>
<div style="position:absolute;left:38.50px;top:2228.67px;font-size:33px;line-height:33px;color:#111;font-weight:normal;white-space:nowrap;">$695,000</div>
<div style="position:absolute;left:417.00px;top:2228.67px;font-size:33px;line-height:33px;color:#111;font-weight:normal;white-space:nowrap;">1,451</div>
<div style="position:absolute;left:631.00px;top:2228.67px;font-size:33px;line-height:33px;color:#111;font-weight:normal;white-space:nowrap;">0.25 - 0.5 acre</div>
<div style="position:absolute;left:1024.70px;top:2228.67px;font-size:33px;line-height:33px;color:#111;font-weight:normal;white-space:nowrap;">3</div>
<div style="position:absolute;left:1207.00px;top:2228.67px;font-size:33px;line-height:33px;color:#111;font-weight:normal;white-space:nowrap;">2</div>
<div style="position:absolute;left:1377.40px;top:2228.67px;font-size:33px;line-height:33px;color:#111;font-weight:normal;white-space:nowrap;">17</div>
<div style="position:absolute;left:1530.00px;top:2228.67px;font-size:33px;line-height:33px;color:#111;font-weight:normal;white-space:nowrap;">0</div>
<div style="position:absolute;left:1691.60px;top:2228.67px;font-size:33px;line-height:33px;color:#111;font-weight:normal;white-space:nowrap;">1</div>
<div style="position:absolute;left:1991.00px;top:2228.67px;font-size:33px;line-height:33px;color:#111;font-weight:normal;white-space:nowrap;">49</div>
<div style="position:absolute;left:38.50px;top:2311.27px;font-size:33px;line-height:33px;color:#111;font-weight:normal;white-space:nowrap;">$459,000</div>
<div style="position:absolute;left:417.00px;top:2311.27px;font-size:33px;line-height:33px;color:#111;font-weight:normal;white-space:nowrap;">1,456</div>
<div style="position:absolute;left:631.00px;top:2311.27px;font-size:33px;line-height:33px;color:#111;font-weight:normal;white-space:nowrap;">0.25 - 0.5 acre</div>
<div style="position:absolute;left:1024.70px;top:2311.27px;font-size:33px;line-height:33px;color:#111;font-weight:normal;white-space:nowrap;">2</div>
<div style="position:absolute;left:1207.00px;top:2311.27px;font-size:33px;line-height:33px;color:#111;font-weight:normal;white-space:nowrap;">2</div>
<div style="position:absolute;left:1377.40px;top:2311.27px;font-size:33px;line-height:33px;color:#111;font-weight:normal;white-space:nowrap;">26</div>
<div style="position:absolute;left:1530.00px;top:2311.27px;font-size:33px;line-height:33px;color:#111;font-weight:normal;white-space:nowrap;">0</div>
<div style="position:absolute;left:1691.60px;top:2311.27px;font-size:33px;line-height:33px;color:#111;font-weight:normal;white-space:nowrap;">0</div>
<div style="position:absolute;left:1991.00px;top:2311.27px;font-size:33px;line-height:33px;color:#111;font-weight:normal;white-space:nowrap;">49</div>
<div style="position:absolute;left:38.50px;top:2393.87px;font-size:33px;line-height:33px;color:#111;font-weight:normal;white-space:nowrap;">$320,000</div>
<div style="position:absolute;left:417.00px;top:2393.87px;font-size:33px;line-height:33px;color:#111;font-weight:normal;white-space:nowrap;">655</div>
<div style="position:absolute;left:631.00px;top:2393.87px;font-size:33px;line-height:33px;color:#111;font-weight:normal;white-space:nowrap;">0 - 4,500 sqft</div>
<div style="position:absolute;left:1024.70px;top:2393.87px;font-size:33px;line-height:33px;color:#111;font-weight:normal;white-space:nowrap;">1</div>
<div style="position:absolute;left:1207.00px;top:2393.87px;font-size:33px;line-height:33px;color:#111;font-weight:normal;white-space:nowrap;">1</div>
<div style="position:absolute;left:1377.40px;top:2393.87px;font-size:33px;line-height:33px;color:#111;font-weight:normal;white-space:nowrap;">26</div>
<div style="position:absolute;left:1530.00px;top:2393.87px;font-size:33px;line-height:33px;color:#111;font-weight:normal;white-space:nowrap;">0</div>
<div style="position:absolute;left:1691.60px;top:2393.87px;font-size:33px;line-height:33px;color:#111;font-weight:normal;white-space:nowrap;">0</div>
<div style="position:absolute;left:1991.00px;top:2393.87px;font-size:33px;line-height:33px;color:#111;font-weight:normal;white-space:nowrap;">140</div>
</body></html>
